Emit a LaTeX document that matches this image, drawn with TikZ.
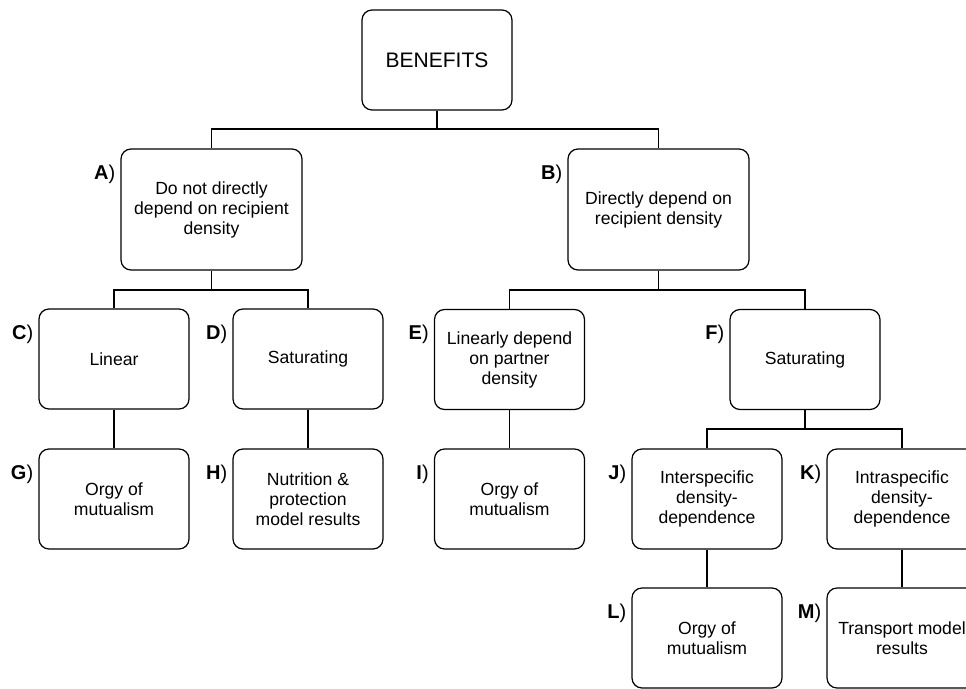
\documentclass[tikz,border=0pt]{standalone}
\usepackage{fontspec}
\setmainfont{Liberation Sans}
\begin{document}
\begin{tikzpicture}[x=1pt,y=-1pt,
  box/.style={draw, line width=1.2pt, rounded corners=10pt, align=center,
    font=\fontsize{17.6}{20}\selectfont, inner sep=0pt,
    minimum width=150pt, minimum height=100pt},
  bigbox/.style={box, minimum width=181pt, minimum height=121pt},
  lab/.style={anchor=base east, font=\fontsize{20}{23}\selectfont, inner sep=0pt},
  conn/.style={line width=1.2pt}]
\useasboundingbox (0,0) rectangle (966,688);

\node[box, font=\fontsize{21}{25}\selectfont] (ben) at (437,60) {BENEFITS};
\node[bigbox] (A) at (211.5,209.5) {Do not directly\\depend on recipient\\density};
\node[bigbox] (B) at (658.5,209.5) {Directly depend on\\recipient density};
\node[box] (C) at (114,359) {Linear};
\node[box] (D) at (308,359) {Saturating};
\node[box] (E) at (509.5,359.5) {Linearly depend\\on partner\\density};
\node[box] (F) at (805,359.5) {Saturating};
\node[box] (G) at (114,499) {Orgy of\\mutualism};
\node[box] (H) at (308,499) {Nutrition \&\\protection\\model results};
\node[box] (I) at (509.5,499) {Orgy of\\mutualism};
\node[box] (J) at (707,499) {Interspecific\\density-\\dependence};
\node[box] (K) at (902,499) {Intraspecific\\density-\\dependence};
\node[box] (L) at (707,638) {Orgy of\\mutualism};
\node[box] (M) at (902,638) {Transport model\\results};

\foreach \n in {A,B,C,D,E,F,G,H,I,J,K,L,M}
  \node[lab] (lab\n) at ([xshift=-5pt,yshift=-31pt]\n.north west) {\textbf{\n})};

\coordinate (j1) at (437,129);
\coordinate (j2) at (211.5,290);
\coordinate (j3) at (658.5,290);
\coordinate (j4) at (805,429);

\draw[conn] (ben.south) -- (j1);
\draw[conn] (A.north) |- (j1) -| (B.north);
\draw[conn] (A.south) -- (j2);
\draw[conn] (C.north) |- (j2) -| (D.north);
\draw[conn] (B.south) -- (j3);
\draw[conn] (E.north) |- (j3) -| (F.north);
\draw[conn] (F.south) -- (j4);
\draw[conn] (J.north) |- (j4) -| (K.north);
\draw[conn] (C.south) -- (G.north);
\draw[conn] (D.south) -- (H.north);
\draw[conn] (E.south) -- (I.north);
\draw[conn] (J.south) -- (L.north);
\draw[conn] (K.south) -- (M.north);
\end{tikzpicture}
\end{document}
